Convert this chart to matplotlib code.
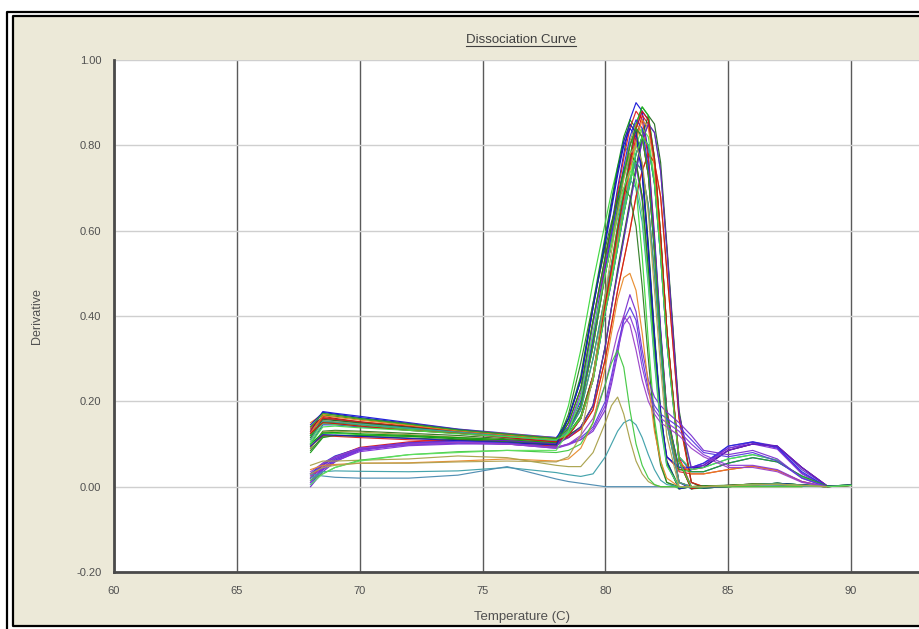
import numpy as np
import matplotlib
matplotlib.use("Agg")
import matplotlib.pyplot as plt
from matplotlib.patches import Rectangle
from matplotlib.lines import Line2D

plt.rcParams['font.family'] = ['Liberation Sans', 'DejaVu Sans']

nan = np.nan

# ---------------- data ----------------
temperature = [68.0, 68.5, 69.0, 70.0, 72.0, 74.0, 76.0, 78.0, 78.5, 79.0, 79.5,
               80.0, 80.25, 80.5, 80.75, 81.0, 81.25, 81.5, 81.75, 82.0, 82.25, 82.5,
               83.0, 83.5, 84.0, 85.0, 86.0, 87.0, 88.0, 89.0, 90.0]

x_ticks = [60, 65, 70, 75, 80, 85, 90]
y_ticks = [-0.20, 0.00, 0.20, 0.40, 0.60, 0.80, 1.00]

w01 = [0.13, 0.176, 0.172, 0.165, 0.15, 0.135, 0.125, 0.115, 0.14, 0.20, 0.35, 0.53, 0.61, 0.70, 0.78, 0.86, 0.90, 0.88, 0.78, 0.59, 0.37, 0.18, 0.01, -0.005, 0.0, 0.002, 0.005, 0.006, 0.003, 0.0, 0.003]
w02 = [0.12, 0.168, 0.165, 0.158, 0.145, 0.132, 0.122, 0.112, 0.125, 0.165, 0.26, 0.44, 0.52, 0.61, 0.69, 0.77, 0.85, 0.89, 0.87, 0.77, 0.59, 0.37, 0.06, -0.005, -0.003, 0.0, 0.004, 0.008, 0.004, 0.001, 0.004]
w03 = [0.14, 0.162, 0.158, 0.15, 0.14, 0.128, 0.12, 0.11, 0.12, 0.16, 0.25, 0.42, 0.50, 0.58, 0.66, 0.75, 0.82, 0.87, 0.85, 0.76, 0.58, 0.37, 0.07, 0.0, 0.0, 0.003, 0.006, 0.005, 0.002, 0.002, nan]
w04 = [0.01, 0.045, 0.065, 0.088, 0.10, 0.108, 0.108, 0.102, 0.13, 0.19, 0.33, 0.50, 0.57, 0.65, 0.73, 0.80, 0.84, 0.82, 0.73, 0.55, 0.35, 0.17, 0.04, 0.045, 0.055, 0.09, 0.104, 0.09, 0.032, 0.0, nan]
w05 = [0.11, 0.155, 0.152, 0.148, 0.138, 0.13, 0.118, 0.108, 0.16, 0.25, 0.42, 0.58, 0.66, 0.74, 0.81, 0.85, 0.83, 0.74, 0.56, 0.35, 0.17, 0.06, -0.005, 0.0, 0.0, 0.002, 0.005, 0.006, 0.003, 0.0, 0.003]
w06 = [0.125, 0.15, 0.148, 0.142, 0.132, 0.125, 0.115, 0.105, 0.12, 0.14, 0.19, 0.33, 0.42, 0.50, 0.58, 0.66, 0.74, 0.81, 0.85, 0.83, 0.74, 0.56, 0.17, 0.04, 0.045, 0.065, 0.075, 0.062, 0.022, 0.0, nan]
w07 = [0.09, 0.13, 0.132, 0.13, 0.125, 0.12, 0.112, 0.105, 0.13, 0.18, 0.30, 0.45, 0.52, 0.59, 0.66, 0.72, 0.76, 0.74, 0.66, 0.50, 0.32, 0.15, 0.01, 0.0, 0.0, 0.002, 0.005, 0.006, 0.003, 0.0, 0.003]
w08 = [0.02, 0.05, 0.07, 0.092, 0.105, 0.11, 0.11, 0.10, 0.15, 0.23, 0.39, 0.54, 0.61, 0.68, 0.74, 0.78, 0.76, 0.68, 0.51, 0.32, 0.16, 0.07, 0.04, 0.04, 0.045, 0.085, 0.10, 0.095, 0.045, 0.003, nan]
w09 = [0.10, 0.145, 0.145, 0.14, 0.135, 0.125, 0.12, 0.115, 0.125, 0.16, 0.25, 0.41, 0.48, 0.56, 0.64, 0.71, 0.78, 0.82, 0.80, 0.71, 0.54, 0.34, 0.06, 0.0, 0.0, 0.003, 0.006, 0.005, 0.002, 0.002, nan]
w10 = [0.10, 0.125, 0.125, 0.122, 0.118, 0.114, 0.108, 0.10, 0.19, 0.32, 0.48, 0.62, 0.69, 0.75, 0.80, 0.78, 0.70, 0.54, 0.34, 0.16, 0.06, 0.01, -0.005, 0.0, -0.003, 0.0, 0.004, 0.008, 0.004, 0.001, 0.004]
w11 = [0.15, 0.17, 0.168, 0.16, 0.148, 0.134, 0.124, 0.114, 0.115, 0.135, 0.18, 0.30, 0.38, 0.46, 0.53, 0.60, 0.68, 0.74, 0.78, 0.76, 0.68, 0.51, 0.16, 0.01, 0.0, 0.002, 0.005, 0.006, 0.003, 0.0, 0.003]
w12 = [0.0, 0.035, 0.058, 0.085, 0.10, 0.105, 0.104, 0.098, 0.12, 0.16, 0.26, 0.43, 0.51, 0.60, 0.68, 0.76, 0.84, 0.88, 0.86, 0.76, 0.58, 0.36, 0.07, 0.04, 0.05, 0.095, 0.105, 0.095, 0.04, 0.002, nan]
w13 = [0.08, 0.115, 0.12, 0.12, 0.118, 0.112, 0.108, 0.10, 0.16, 0.26, 0.43, 0.59, 0.67, 0.75, 0.82, 0.86, 0.84, 0.75, 0.57, 0.36, 0.18, 0.06, 0.0, 0.0, 0.002, 0.003, 0.006, 0.005, 0.002, 0.002, nan]
w14 = [0.135, 0.165, 0.16, 0.152, 0.14, 0.13, 0.12, 0.112, 0.135, 0.19, 0.33, 0.50, 0.57, 0.65, 0.73, 0.80, 0.84, 0.82, 0.73, 0.55, 0.35, 0.17, 0.01, 0.0, 0.0, 0.002, 0.005, 0.006, 0.003, 0.0, 0.003]
w15 = [0.03, 0.055, 0.072, 0.09, 0.098, 0.102, 0.10, 0.095, 0.12, 0.16, 0.25, 0.41, 0.48, 0.56, 0.64, 0.71, 0.78, 0.82, 0.80, 0.71, 0.54, 0.34, 0.07, 0.035, 0.035, 0.055, 0.068, 0.058, 0.025, 0.002, nan]
w16 = [0.12, 0.16, 0.156, 0.15, 0.138, 0.126, 0.118, 0.11, 0.14, 0.21, 0.36, 0.50, 0.57, 0.63, 0.69, 0.72, 0.70, 0.62, 0.47, 0.29, 0.14, 0.05, 0.0, 0.0, 0.0, 0.002, 0.005, 0.006, 0.003, 0.0, 0.003]
w17 = [0.115, 0.158, 0.155, 0.15, 0.14, 0.13, 0.12, 0.11, 0.12, 0.14, 0.19, 0.33, 0.42, 0.51, 0.59, 0.67, 0.75, 0.82, 0.87, 0.85, 0.76, 0.57, 0.18, 0.01, -0.003, 0.0, 0.004, 0.008, 0.004, 0.001, 0.004]
w18 = [0.095, 0.12, 0.118, 0.115, 0.11, 0.105, 0.1, 0.095, 0.13, 0.19, 0.34, 0.52, 0.60, 0.69, 0.77, 0.84, 0.88, 0.86, 0.77, 0.58, 0.36, 0.18, 0.035, 0.03, 0.03, 0.04, 0.048, 0.038, 0.012, 0.0, nan]
w19 = [0.015, 0.04, 0.06, 0.082, 0.096, 0.10, 0.10, 0.092, 0.14, 0.22, 0.38, 0.53, 0.60, 0.67, 0.73, 0.77, 0.75, 0.67, 0.50, 0.31, 0.16, 0.07, 0.045, 0.045, 0.05, 0.09, 0.10, 0.088, 0.03, 0.0, nan]
w20 = [0.12, 0.152, 0.15, 0.145, 0.135, 0.127, 0.118, 0.11, 0.125, 0.165, 0.26, 0.44, 0.52, 0.61, 0.69, 0.77, 0.85, 0.89, 0.87, 0.77, 0.59, 0.37, 0.06, -0.005, 0.0, 0.002, 0.005, 0.006, 0.003, 0.0, 0.003]
w21 = [0.145, 0.174, 0.17, 0.162, 0.148, 0.134, 0.123, 0.113, 0.16, 0.25, 0.42, 0.57, 0.65, 0.73, 0.80, 0.84, 0.82, 0.73, 0.55, 0.35, 0.17, 0.07, 0.045, 0.045, 0.045, 0.085, 0.10, 0.095, 0.045, 0.003, nan]
w22 = [0.09, 0.128, 0.13, 0.128, 0.122, 0.116, 0.11, 0.104, 0.135, 0.19, 0.33, 0.50, 0.58, 0.66, 0.74, 0.81, 0.85, 0.83, 0.74, 0.56, 0.35, 0.17, 0.01, 0.0, 0.0, 0.003, 0.006, 0.005, 0.002, 0.002, nan]
w23 = [0.105, 0.148, 0.146, 0.142, 0.134, 0.126, 0.118, 0.11, 0.125, 0.16, 0.25, 0.42, 0.49, 0.57, 0.65, 0.72, 0.80, 0.84, 0.82, 0.72, 0.55, 0.35, 0.07, 0.04, 0.045, 0.065, 0.075, 0.062, 0.022, 0.0, nan]
w24 = [0.13, 0.16, 0.158, 0.152, 0.142, 0.13, 0.12, 0.11, 0.115, 0.135, 0.18, 0.30, 0.38, 0.46, 0.53, 0.60, 0.68, 0.74, 0.78, 0.76, 0.68, 0.51, 0.16, 0.01, 0.0, 0.002, 0.005, 0.006, 0.003, 0.0, 0.003]
w25 = [0.005, 0.04, 0.062, 0.086, 0.10, 0.106, 0.106, 0.1, 0.13, 0.19, 0.34, 0.51, 0.59, 0.67, 0.75, 0.82, 0.86, 0.84, 0.75, 0.57, 0.36, 0.17, 0.045, 0.045, 0.055, 0.095, 0.105, 0.092, 0.035, 0.0, nan]
w26 = [0.10, 0.126, 0.127, 0.124, 0.12, 0.115, 0.11, 0.103, 0.15, 0.23, 0.39, 0.54, 0.61, 0.68, 0.74, 0.78, 0.76, 0.68, 0.51, 0.32, 0.16, 0.055, -0.005, 0.0, -0.003, 0.0, 0.004, 0.008, 0.004, 0.001, 0.004]
w27 = [0.125, 0.166, 0.163, 0.156, 0.144, 0.131, 0.121, 0.111, 0.12, 0.16, 0.25, 0.42, 0.50, 0.58, 0.66, 0.74, 0.81, 0.86, 0.84, 0.75, 0.57, 0.36, 0.06, 0.03, 0.03, 0.04, 0.048, 0.038, 0.012, 0.0, nan]
w28 = [0.11, 0.154, 0.151, 0.146, 0.137, 0.128, 0.118, 0.108, 0.13, 0.18, 0.30, 0.45, 0.52, 0.59, 0.66, 0.72, 0.76, 0.74, 0.66, 0.50, 0.32, 0.15, 0.01, 0.0, 0.0, 0.002, 0.005, 0.006, 0.003, 0.0, 0.003]
w29 = [0.025, 0.052, 0.07, 0.09, 0.103, 0.108, 0.108, 0.1, 0.115, 0.14, 0.19, 0.33, 0.42, 0.50, 0.58, 0.66, 0.74, 0.81, 0.85, 0.83, 0.74, 0.56, 0.17, 0.045, 0.05, 0.085, 0.10, 0.095, 0.045, 0.003, nan]
w30 = [0.085, 0.118, 0.12, 0.118, 0.114, 0.11, 0.105, 0.098, 0.17, 0.29, 0.43, 0.56, 0.62, 0.67, 0.70, 0.68, 0.61, 0.47, 0.30, 0.14, 0.05, 0.01, 0.0, 0.0, 0.002, 0.003, 0.006, 0.005, 0.002, 0.002, nan]
w31 = [0.125, 0.15, 0.148, 0.142, 0.132, 0.125, 0.115, 0.105, 0.12, 0.16, 0.26, 0.43, 0.51, 0.60, 0.68, 0.76, 0.84, 0.88, 0.86, 0.77, 0.59, 0.37, 0.06, -0.005, 0.0, 0.002, 0.005, 0.006, 0.003, 0.0, 0.003]
w32 = [0.095, 0.122, 0.121, 0.118, 0.113, 0.108, 0.103, 0.098, 0.16, 0.25, 0.42, 0.58, 0.66, 0.74, 0.81, 0.85, 0.83, 0.74, 0.56, 0.35, 0.17, 0.06, -0.005, 0.0, -0.003, 0.0, 0.004, 0.008, 0.004, 0.001, 0.004]
w33 = [0.14, 0.172, 0.168, 0.16, 0.147, 0.133, 0.123, 0.113, 0.135, 0.19, 0.33, 0.50, 0.57, 0.65, 0.73, 0.80, 0.84, 0.82, 0.73, 0.55, 0.35, 0.17, 0.04, 0.035, 0.035, 0.055, 0.068, 0.058, 0.025, 0.002, nan]
w34 = [0.10, 0.14, 0.142, 0.138, 0.132, 0.124, 0.117, 0.11, 0.125, 0.16, 0.25, 0.41, 0.48, 0.56, 0.64, 0.71, 0.78, 0.82, 0.80, 0.71, 0.54, 0.34, 0.06, 0.0, 0.0, 0.002, 0.005, 0.006, 0.003, 0.0, 0.003]

# lower-peak (purple) wells
w35 = [0.02, 0.045, 0.065, 0.09, 0.10, 0.105, 0.10, 0.09, 0.10, 0.11, 0.13, 0.18, 0.24, 0.31, 0.40, 0.45, 0.41, 0.32, 0.25, 0.21, 0.19, 0.175, 0.15, 0.12, 0.085, 0.075, 0.085, 0.065, 0.02, 0.0, nan]
w36 = [0.03, 0.05, 0.068, 0.09, 0.102, 0.106, 0.102, 0.092, 0.10, 0.115, 0.14, 0.20, 0.26, 0.33, 0.39, 0.42, 0.39, 0.30, 0.23, 0.19, 0.17, 0.16, 0.14, 0.11, 0.08, 0.07, 0.08, 0.06, 0.02, 0.0, nan]
w37 = [0.01, 0.04, 0.06, 0.086, 0.098, 0.103, 0.1, 0.09, 0.098, 0.11, 0.135, 0.19, 0.25, 0.32, 0.38, 0.40, 0.36, 0.28, 0.22, 0.18, 0.16, 0.15, 0.13, 0.10, 0.075, 0.05, 0.05, 0.04, 0.012, 0.0, nan]
w38 = [0.035, 0.055, 0.07, 0.09, 0.1, 0.104, 0.1, 0.092, 0.10, 0.12, 0.16, 0.24, 0.30, 0.36, 0.40, 0.38, 0.32, 0.25, 0.20, 0.17, 0.15, 0.14, 0.12, 0.09, 0.07, 0.045, 0.045, 0.035, 0.01, 0.0, nan]

# individual low wells
w39 = [0.04, 0.05, 0.052, 0.055, 0.056, 0.06, 0.065, 0.06, 0.065, 0.09, 0.15, 0.28, 0.36, 0.44, 0.49, 0.50, 0.46, 0.36, 0.24, 0.13, 0.06, 0.02, 0.0, 0.0, 0.0, 0.002, 0.004, 0.004, 0.002, 0.0, nan]
w40 = [0.02, 0.035, 0.037, 0.036, 0.035, 0.037, 0.045, 0.033, 0.028, 0.024, 0.03, 0.07, 0.10, 0.13, 0.15, 0.157, 0.145, 0.115, 0.075, 0.04, 0.015, 0.005, 0.0, 0.0, 0.0, 0.001, 0.002, 0.002, 0.001, 0.0, nan]
w41 = [0.03, 0.025, 0.022, 0.02, 0.02, 0.027, 0.047, 0.018, 0.012, 0.008, 0.004, 0.0, 0.0, 0.0, 0.0, 0.0, 0.0, 0.0, 0.0, 0.0, 0.0, 0.0, 0.0, 0.0, 0.0, nan, nan, nan, nan, nan, nan]
w42 = [0.05, 0.06, 0.06, 0.062, 0.065, 0.072, 0.068, 0.05, 0.047, 0.047, 0.08, 0.15, 0.19, 0.21, 0.17, 0.11, 0.06, 0.03, 0.012, 0.004, 0.0, 0.0, 0.0, 0.0, 0.0, 0.0, 0.0, 0.0, 0.0, nan, nan]
w43 = [0.015, 0.03, 0.045, 0.062, 0.075, 0.082, 0.085, 0.08, 0.085, 0.10, 0.15, 0.24, 0.29, 0.32, 0.28, 0.18, 0.10, 0.05, 0.02, 0.005, 0.0, 0.0, 0.0, 0.0, 0.0, 0.0, 0.0, 0.0, 0.0, nan, nan]
w44 = [0.005, 0.03, 0.045, 0.06, 0.075, 0.08, 0.085, 0.085, 0.13, 0.21, 0.36, 0.50, 0.57, 0.64, 0.70, 0.74, 0.72, 0.64, 0.48, 0.30, 0.15, 0.05, 0.0, 0.0, 0.0, 0.002, 0.005, 0.006, 0.003, 0.0, 0.003]
w45 = [0.03, 0.045, 0.05, 0.055, 0.055, 0.058, 0.06, 0.058, 0.07, 0.12, 0.26, 0.45, 0.55, 0.64, 0.72, 0.78, 0.80, 0.76, 0.64, 0.46, 0.28, 0.12, 0.0, 0.0, 0.0, 0.002, 0.004, 0.006, 0.003, 0.0, nan]

wells = [w01, w02, w03, w04, w05, w06, w07, w08, w09, w10, w11, w12, w13, w14, w15,
         w16, w17, w18, w19, w20, w21, w22, w23, w24, w25, w26, w27, w28, w29, w30,
         w31, w32, w33, w34, w35, w36, w37, w38, w39, w40, w41, w42, w43, w44, w45]

well_colors = ['#1414d8', '#17a317', '#e01010', '#7a28d0', '#9a9a30', '#2a9a9a', '#2f6e1f', '#d81818',
               '#2020e0', '#3ad83a', '#f07818', '#6a2cc8', '#0f9a0f', '#a01818', '#1a3ad0',
               '#30a0a8', '#1f6a1f', '#e02020', '#8030d8', '#22b022', '#1010c8', '#a0a040', '#50e050',
               '#d01c1c', '#2a2ae0', '#119911', '#e88020', '#3aa0a0', '#7020c0', '#2e7a22',
               '#cc1111', '#1c1cb8', '#26a626', '#44dd44', '#7b2fd0', '#5a3ae0', '#8a3ad8', '#9a40c8',
               '#e88a2a', '#3c9fa8', '#4a8ab0', '#a8a048', '#40c840', '#5ee05e', '#b0a050']

# ---------------- figure ----------------
W, H = 920, 629
fig = plt.figure(figsize=(W / 100, H / 100), dpi=100)
fig.patch.set_facecolor('white')

def fx(px):
    return px / W

def fy(py):
    return 1 - py / H

# beige panel
fig.add_artist(Rectangle((fx(14), fy(625)), 1.0, fy(17) - fy(625),
                         transform=fig.transFigure, facecolor='#ECE9D8',
                         edgecolor='none', zorder=0))
# double black frame
frame_kw = dict(color='black', lw=1.6, transform=fig.transFigure, zorder=5)
fig.add_artist(Line2D([fx(7.5), fx(7.5), 1.0], [0.0, fy(11.5), fy(11.5)], **frame_kw))
fig.add_artist(Line2D([1.0, fx(13), fx(13), 1.0], [fy(625.5), fy(625.5), fy(16), fy(16)], **frame_kw))

ax = fig.add_axes([fx(114), fy(572), 1.0 - fx(114), fy(60) - fy(572)])
ax.set_facecolor('white')

for vals, col in zip(wells, well_colors):
    ax.plot(temperature, vals, color=col, lw=0.85, alpha=0.95, zorder=3)

ax.set_xlim(60, 60 + (W - 114) / (851 - 114) * 30)
ax.set_ylim(-0.20, 1.00)
ax.set_xticks(x_ticks)
ax.set_yticks(y_ticks)
ax.set_yticklabels(['%.2f' % v for v in y_ticks])
ax.set_xticklabels([str(v) for v in x_ticks])
ax.tick_params(length=0, labelsize=8, labelcolor='#505050')
ax.tick_params(axis='y', pad=9)
ax.tick_params(axis='x', pad=10)

ax.set_axisbelow(True)
ax.xaxis.grid(True, color='#5a5a5a', lw=1.0)
ax.yaxis.grid(True, color='#cfcfcf', lw=1.0)

for s in ['top', 'right']:
    ax.spines[s].set_visible(False)
for s in ['left', 'bottom']:
    ax.spines[s].set_color('#4a4a4a')
    ax.spines[s].set_linewidth(2.0)
    ax.spines[s].set_zorder(4)

ax.set_ylabel('Derivative', fontsize=9, color='#505050')
ax.yaxis.set_label_coords((43 - 114) / (W - 114), 0.5)
ax.set_xlabel('Temperature (C)', fontsize=9.5, color='#505050')
ax.xaxis.set_label_coords((522 - 114) / (W - 114), -(611 - 572) / (572 - 60))

title = fig.text(fx(521), fy(40), 'Dissociation Curve', ha='center', va='center',
                 fontsize=9.5, color='#404040')

fig.canvas.draw()
bb = title.get_window_extent()
inv = fig.transFigure.inverted()
(x0, y0), (x1, _) = inv.transform([(bb.x0, bb.y0), (bb.x1, bb.y0)])
fig.add_artist(Line2D([x0, x1], [y0 + 0.5 / H, y0 + 0.5 / H], color='#404040', lw=0.8,
                      transform=fig.transFigure))

fig.savefig('out.png', dpi=100, facecolor=fig.get_facecolor())
